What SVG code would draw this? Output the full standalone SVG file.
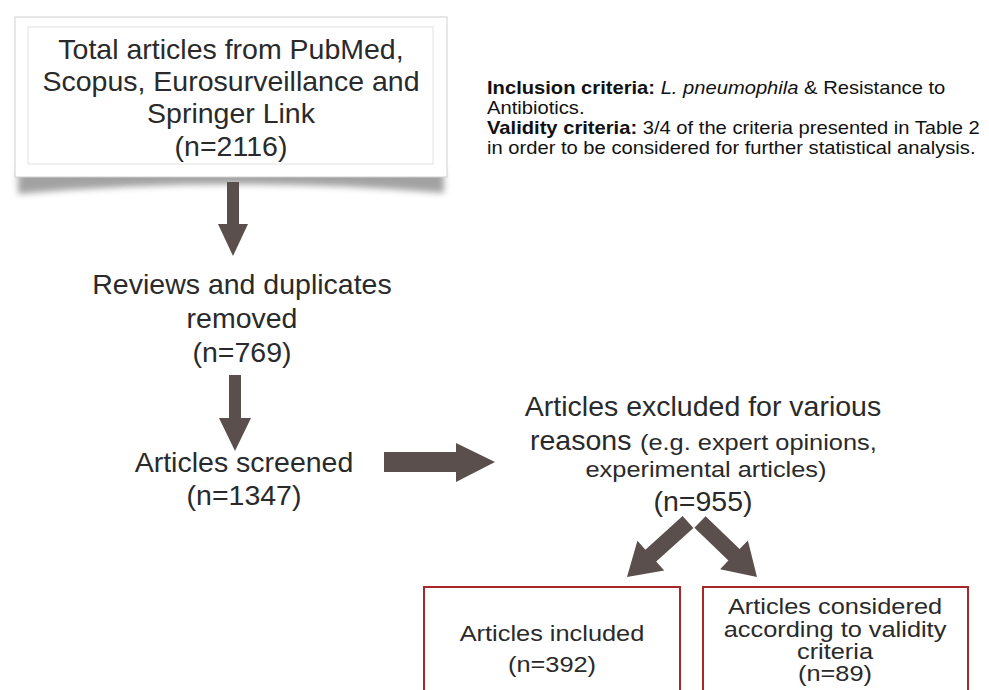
<svg xmlns="http://www.w3.org/2000/svg" width="989" height="690" viewBox="0 0 989 690">
<style>
.big{font-family:"Liberation Sans",Arial,sans-serif;font-size:28.5px;fill:#2a2a2a;text-anchor:middle}
.mid{font-family:"Liberation Sans",Arial,sans-serif;font-size:21.5px;fill:#2a2a2a;text-anchor:middle}
.note{font-family:"Liberation Sans",Arial,sans-serif;font-size:18px;fill:#111}
.b{font-weight:bold}
.i{font-style:italic}
.arrow{fill:#5a4f4d}
.red{fill:#fff;stroke:#a8282a;stroke-width:2}
</style>
<defs>
<filter id="blur" x="-10%" y="-50%" width="120%" height="200%"><feGaussianBlur stdDeviation="3"/></filter>
</defs>
<rect width="989" height="690" fill="#fff"/>
<g id="node-total">
<path d="M18 168 L444 168 L444 193 Q231 175 18 194 Z" fill="#666" opacity="0.6" filter="url(#blur)"/>
<rect x="15" y="17" width="432" height="160" fill="#fff" stroke="#d0d0d0" stroke-width="1"/>
<rect x="28" y="27" width="405" height="137" fill="#fff" stroke="#e2e2e2" stroke-width="1"/>
<text class="big" x="231" y="59">Total articles from PubMed,</text>
<text class="big" x="231" y="91">Scopus, Eurosurveillance and</text>
<text class="big" x="231" y="123">Springer Link</text>
<text class="big" x="231" y="156">(n=2116)</text>
</g>
<g id="criteria-note" transform="translate(487,0) scale(1.12,1)">
<text class="note" x="0" y="94"><tspan class="b">Inclusion criteria:</tspan> <tspan class="i">L. pneumophila</tspan> &amp; Resistance to</text>
<text class="note" x="0" y="114">Antibiotics.</text>
<text class="note" x="0" y="134"><tspan class="b">Validity criteria:</tspan> 3/4 of the criteria presented in Table 2</text>
<text class="note" x="0" y="154">in order to be considered for further statistical analysis.</text>
</g>
<g id="node-reviews">
<text class="big" x="242" y="294">Reviews and duplicates</text>
<text class="big" x="242" y="328">removed</text>
<text class="big" x="242" y="362">(n=769)</text>
</g>
<g id="node-screened">
<text class="big" x="244" y="472">Articles screened</text>
<text class="big" x="244" y="505">(n=1347)</text>
</g>
<g id="node-excluded">
<text class="big" x="703" y="416">Articles excluded for various</text>
<text class="big" x="530" y="450" style="text-anchor:start">reasons</text>
<text class="mid" transform="translate(640,450) scale(1.18,1)" x="0" y="0" style="text-anchor:start">(e.g. expert opinions,</text>
<text class="mid" transform="translate(706,477) scale(1.18,1)" x="0" y="0">experimental articles)</text>
<text class="big" x="703" y="511">(n=955)</text>
</g>
<g id="node-included">
<rect class="red" x="424" y="587" width="256" height="120"/>
<g transform="translate(552,0) scale(1.18,1)">
<text class="mid" x="0" y="641">Articles included</text>
<text class="mid" x="0" y="672">(n=392)</text>
</g>
</g>
<g id="node-validity">
<rect class="red" x="703" y="587" width="265" height="120"/>
<g transform="translate(835,0) scale(1.18,1)">
<text class="mid" x="0" y="614">Articles considered</text>
<text class="mid" x="0" y="637">according to validity</text>
<text class="mid" x="0" y="659">criteria</text>
<text class="mid" x="0" y="681">(n=89)</text>
</g>
</g>
<g id="connectors">
<polygon class="arrow" points="227,182 239,182 239,224 248,224 233,256 218,224 227,224"/>
<polygon class="arrow" points="229,375 241,375 241,418 251,418 235,451 219,418 229,418"/>
<polygon class="arrow" points="384,452 456,452 456,443 495,462 456,482 456,472 384,472"/>
<polygon class="arrow" points="693.4,527.9 656.2,561.5 664.2,570.5 627,577 637.4,540.7 645.4,549.7 682.6,516.1"/>
<polygon class="arrow" points="694.4,527.8 728.4,560.6 720.1,569.2 757,577 747.9,540.4 739.6,549.0 705.6,516.2"/>
</g>
</svg>
